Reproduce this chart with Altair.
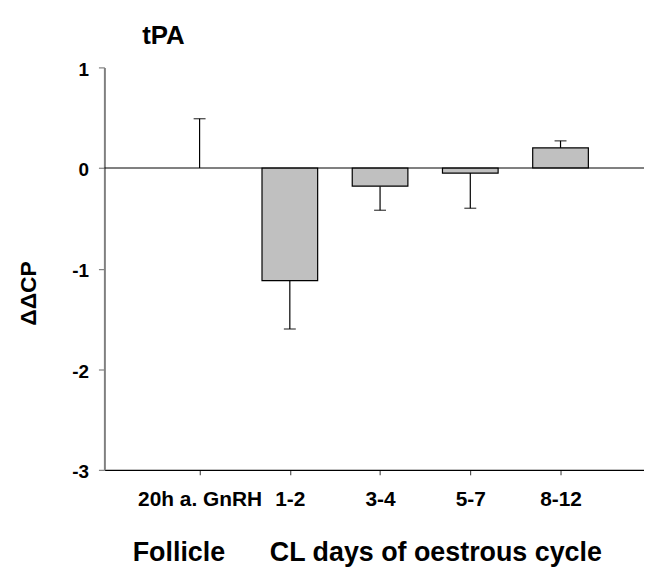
import altair as alt
import pandas as pd

categories = ["20h a. GnRH", "1-2", "3-4", "5-7", "8-12"]
positions = [1, 2, 3, 4, 5]
values = [0.0, -1.12, -0.18, -0.05, 0.20]
err_ends = [0.49, -1.60, -0.42, -0.40, 0.27]
y_ticks = [-3, -2, -1, 0, 1]

df = pd.DataFrame({"pos": positions, "cat": categories, "val": values, "err": err_ends})
df_bars = df[df["val"] != 0]

label_expr = "[" + ",".join("'" + c + "'" for c in categories) + "][datum.value - 1]"

FONT = "Liberation Sans"

x_scale = alt.Scale(domain=[0, 5.87], nice=False, zero=False)
y_scale = alt.Scale(domain=[-3, 1], nice=False)

x_axis = alt.Axis(
    values=positions, labelExpr=label_expr, grid=False,
    domainColor="#000000", domainWidth=1.2, tickColor="#555555", tickSize=5, tickWidth=1.2,
    labelFont=FONT, labelFontWeight="bold", labelFontSize=21, labelColor="#000000",
    labelPadding=14, labelOverlap=False,
    title="Follicle" + "\u00a0" * 6 + "CL days of oestrous cycle",
    titleFont=FONT, titleFontWeight="bold", titleFontSize=27, titleColor="#000000",
    titleAnchor="start", titleAlign="left", titleX=28, titleY=91, titleBaseline="alphabetic",
)
y_axis = alt.Axis(
    values=y_ticks, grid=False, labelExpr="datum.value + ''",
    domainColor="#808080", domainWidth=2, tickColor="#808080", tickSize=6, tickWidth=1.2,
    labelFont=FONT, labelFontWeight="bold", labelFontSize=19, labelColor="#000000",
    labelPadding=10, labelOffset=2,
    title="ΔΔCP", titleFont=FONT, titleFontWeight="bold", titleFontSize=23, titleColor="#000000",
    titleAngle=-90, titleX=-76, titleY=227, titleAlign="center", titleBaseline="middle",
)

base = alt.Chart(df)

bars = alt.Chart(df_bars).mark_bar(
    size=56, color="#c0c0c0", stroke="#000000", strokeWidth=1.2
).encode(
    x=alt.X("pos:Q", scale=x_scale, axis=x_axis),
    y=alt.Y("val:Q", scale=y_scale, axis=y_axis),
    y2=alt.Y2(datum=0),
)

err_rule = base.mark_rule(color="#000000", strokeWidth=1.2).encode(
    x=alt.X("pos:Q", scale=x_scale),
    y=alt.Y("val:Q", scale=y_scale),
    y2="err:Q",
)

caps = base.mark_tick(orient="horizontal", size=12, thickness=1.3, color="#000000").encode(
    x=alt.X("pos:Q", scale=x_scale),
    y=alt.Y("err:Q", scale=y_scale),
)

zero = alt.Chart(pd.DataFrame({"z": [0]})).mark_rule(color="#000000", strokeWidth=1).encode(
    y=alt.Y("z:Q", scale=y_scale)
)

chart = alt.layer(err_rule, caps, bars, zero).properties(
    width=543, height=405,
    autosize=alt.AutoSizeParams(type="none"),
    padding={"left": 97, "top": 58, "right": 0, "bottom": 100},
    title=alt.TitleParams(
        "tPA", anchor="start", frame="group", dx=38, offset=12,
        font=FONT, fontWeight="bold", fontSize=26, color="#000000",
    ),
).configure_view(stroke=None)

chart.save("out.html", embed_options={"renderer": "svg", "actions": False})
